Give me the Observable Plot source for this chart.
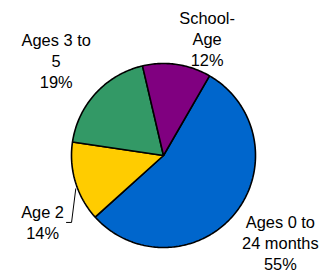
<!DOCTYPE html>
<html>
<head>
<meta charset="utf-8">
<script src="https://cdn.jsdelivr.net/npm/d3@7"></script>
<script src="https://cdn.jsdelivr.net/npm/@observablehq/plot@0.6"></script>
<style>
  html, body { margin: 0; padding: 0; background: #ffffff; }
  #chart { width: 322px; height: 273px; }
</style>
</head>
<body>
<div id="chart"></div>
<script>
// ---- data ----
const categories = ["Ages 0 to 24 months", "Age 2", "Ages 3 to 5", "School-Age"];
const shares = [55, 14, 19, 12];
const labelLines = [["Ages 0 to", "24 months"], ["Age 2"], ["Ages 3 to", "5"], ["School-", "Age"]];
const colors = ["#0066CC", "#FFCC00", "#339966", "#800080"];

// ---- layout ----
const START = 30; // degrees clockwise from 12 o'clock
const labelPlace = [
  {k: 1.58, nudge: -2.5},
  {k: 1.50, nudge: -12},
  {k: 1.56, nudge: -1},
  {k: 1.36, nudge: 12}
];
const rad = (deg) => deg * Math.PI / 180;

const total = d3.sum(shares);
let acc = 0;
const slices = categories.map((c, i) => {
  const a0 = START + acc / total * 360;
  acc += shares[i];
  const a1 = START + acc / total * 360;
  return {c, i, a0, a1, mid: (a0 + a1) / 2};
});

const pts = slices.flatMap(s => {
  const n = Math.ceil(s.a1 - s.a0);
  const arr = [{c: s.c, x: 0, y: 0}];
  for (let j = 0; j <= n; j++) {
    const a = rad(s.a0 + (s.a1 - s.a0) * j / n);
    arr.push({c: s.c, x: Math.sin(a), y: Math.cos(a)});
  }
  return arr;
});

const labels = slices.map(s => {
  const p = labelPlace[s.i];
  const a = rad(s.mid + p.nudge);
  return {
    x: p.k * Math.sin(a),
    y: p.k * Math.cos(a),
    text: [...labelLines[s.i], shares[s.i] + "%"].join("\n")
  };
});

// leader line for the "Age 2" label
const ys = slices[1];
const lab = labels[1];
const edgeA = rad(ys.mid - 4);
const leader = [
  {x: 1.02 * Math.sin(edgeA), y: 1.02 * Math.cos(edgeA)},
  {x: lab.x + 0.315, y: lab.y - 0.005},
  {x: lab.x + 0.26, y: lab.y - 0.005}
];

const chart = Plot.plot({
  width: 322,
  height: 273,
  marginLeft: 71,
  marginRight: 67,
  marginTop: 63,
  marginBottom: 26,
  x: {domain: [-1, 1], axis: null},
  y: {domain: [-1, 1], axis: null},
  color: {domain: categories, range: colors},
  style: {fontFamily: "'Liberation Sans', Arial, sans-serif", background: "#ffffff", overflow: "visible"},
  marks: [
    Plot.line(pts, {x: "x", y: "y", z: "c", fill: "c", stroke: "black", strokeWidth: 1.6, curve: "linear-closed", strokeLinejoin: "miter"}),
    Plot.line(leader, {x: "x", y: "y", stroke: "black", strokeWidth: 1, strokeLinejoin: "miter"}),
    Plot.text(labels, {x: "x", y: "y", text: "text", fontSize: 16.4, lineHeight: 1.28, fill: "black", textAnchor: "middle", lineAnchor: "middle"})
  ]
});
document.getElementById("chart").appendChild(chart);
</script>
</body>
</html>
